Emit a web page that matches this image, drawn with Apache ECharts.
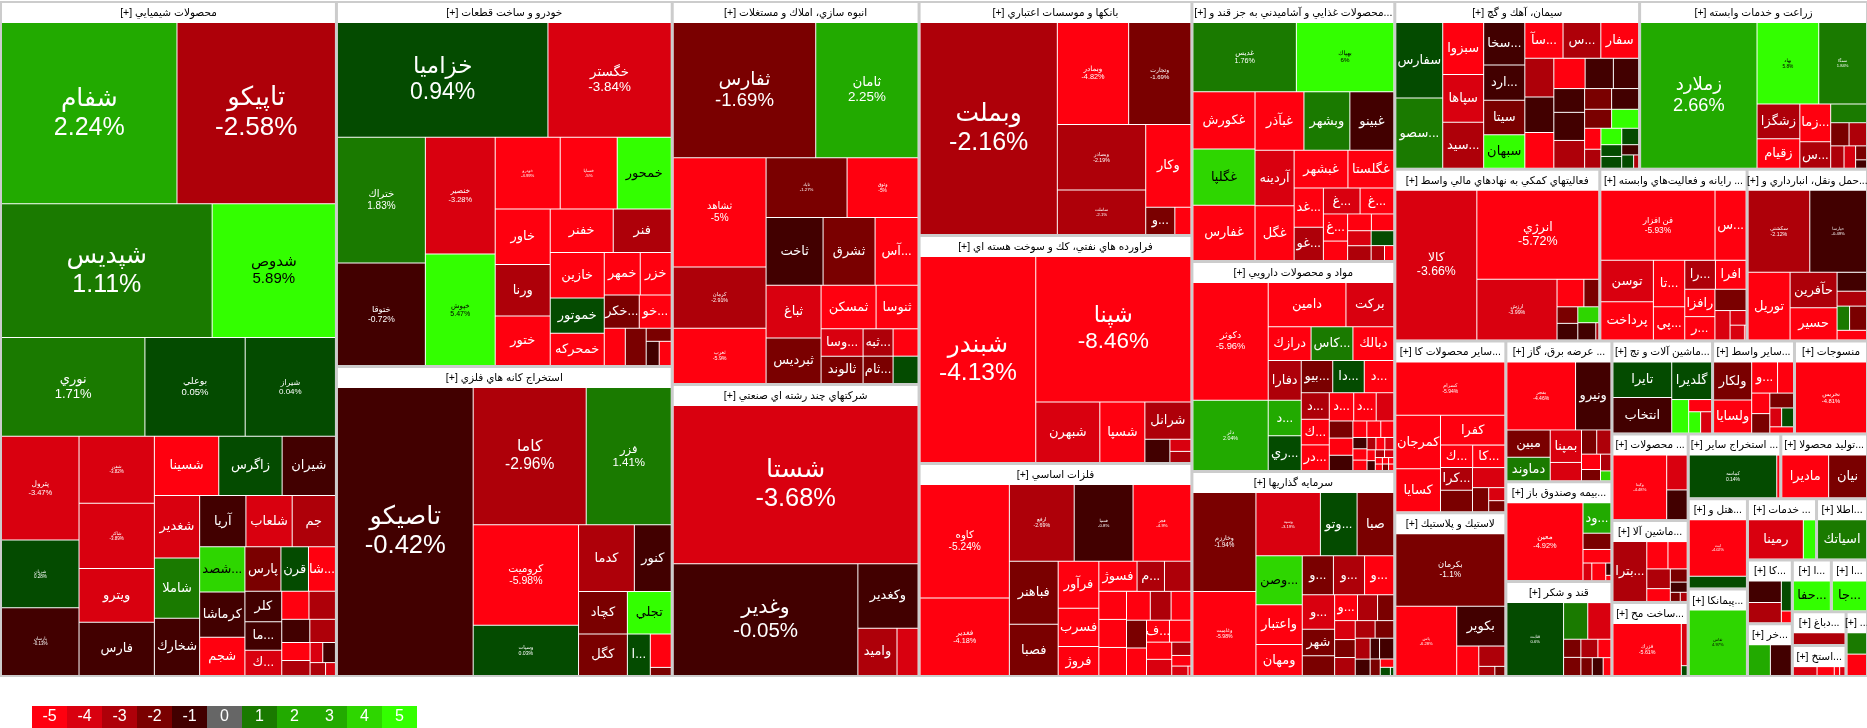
<!DOCTYPE html>
<html><head><meta charset="utf-8">
<style>html,body{margin:0;padding:0;background:#fff}#c{width:1867px;height:728px}</style>
<script src="https://cdn.jsdelivr.net/npm/echarts@6/dist/echarts.min.js"></script>
</head><body><div id="c"></div>
<script>
const sectorNames = ['محصولات شيميايي [+]','خودرو و ساخت قطعات [+]','استخراج كانه هاي فلزي [+]','انبوه سازي، املاك و مستغلات [+]','شركتهاي چند رشته اي صنعتي [+]','بانكها و موسسات اعتباري [+]','فراورده هاي نفتي، كك و سوخت هسته اي [+]','فلزات اساسي [+]','...محصولات غذايي و آشاميدني به جز قند و [+]','مواد و محصولات دارويي [+]','سرمايه گذاريها [+]','سيمان، آهك و گچ [+]','زراعت و خدمات وابسته [+]','فعاليتهاي كمكي به نهادهاي مالي واسط [+]','... رايانه و فعاليت‌هاي وابسته [+]','...حمل ونقل، انبارداري و [+]','...ساير محصولات كا [+]','لاستيك و پلاستيك [+]','... عرضه برق، گاز [+]','...بيمه وصندوق باز [+]','قند و شكر [+]','...ماشين آلات و تج [+]','...ساير واسط [+]','منسوجات [+]','... محصولات [+]','...ماشين آلا [+]','...ساخت مح [+]','... استخراج ساير [+]','...توليد محصولا [+]','...هتل و [+]','...پيمانكا [+]','... خدمات [+]','...اطلا [+]','...كا [+]','...خر [+]','...ا [+]','...ا [+]','...دباغ [+]','...استخ [+]','... [+]'];
const sectorValues = [226900,122640,104160,94601,72124,63882,62244,58149,52780,42630,41615,41082,38243,35226,25308,20691,19092,18204,14946,10600,10070,9384,7636,6808,6600,6250,5650,6000,5620,5350,5180,4230,3120,2860,2370,2020,1870,1820,1660,1390];

const tilesChemicals = [['شفام',31450,2.24],['تاپيكو',28400,-2.58],['شپديس',27850,1.11],['شدوص',16300,5.89],['نوري',14014,1.71],['بوعلي',9800,0.05],['شيراز',8820,0.04],['پترول',7956,-3.47],['شريان',5200,0.28],['پارسان',5190,-0.13],['شفن',4990,-3.82],['شاكر',4875,-3.89],['ويترو',3990,-3.2],['فارس',3975,-0.6],['شسينا',3780,-4.6],['زاگرس',3720,0.6],['شيران',3130,-0.7],['شغدير',2790,-3.4],['شاملا',2700,1.5],['شخارك',2565,-0.6],['آريا',2346,-0.7],['شلعاب',2346,-3.3],['جم',2193,-2.7],['...شصد',2025,4.5],['كرماشا',2025,-0.7],['شجم',1710,-4.6],['پارس',1581,-1.6],['قرن',1209,0.5],['...شا',1184,-4.5],['كلر',1110,-0.7],['...ما',1036,-0.8],['...ك',924,-3.4],['',756,-4.6],['',736,-2.6],['',644,-0.7],['',588,-2.6],['',504,-4.5],['',420,-2.6],['',252,-3.3],['',252,-0.6],['',198,-2.5],['',126,-3.4]];
const tilesAuto = [['خزاميا',23940,0.94],['خگستر',14022,-3.84],['ختراك',10938,1.83],['ختوقا',8925,-0.72],['خنصير',8062,-3.28],['خپوش',7715,5.47],['خودرو',4615,-4.99],['خساپا',4047,-5],['خمحور',3834,5.1],['خاور',3025,-4.5],['ورنا',2805,-2.5],['ختور',2695,-4.6],['خفنر',2709,-4.7],['فنر',2494,-2.6],['خازين',2430,-4.4],['خموتور',1890,0.4],['خمحركه',1728,-4.8],['خمهر',1512,-4.2],['خزر',1302,-4.3],['...خكر',1155,-1.5],['...خو',1056,-4.9],['',777,-4.6],['',770,-1.5],['',325,-1.6],['',312,-0.7],['',288,-4.5]];
const tilesMining = [['تاصيكو',38745,-0.42],['كاما',15368,-2.96],['فزر',11560,1.41],['كروميت',10500,-5.98],['وسپات',5250,0.03],['كدما',3696,-2.7],['كنور',2442,-0.6],['كچاد',2058,-1.8],['كگل',2009,-1.6],['تجلي',1848,5.2],['...ا',943,0.3],['',693,-4.6],['',168,-1.7]];
const tilesHousing = [['ثفارس',19028,-1.69],['ثامان',13668,2.25],['ثشاهد',10028,-5],['كرمان',5612,-2.91],['ثغرب',5060,-5.9],['ثاباد',4779,-1.27],['وثوق',4189,-5],['ثاخت',3819,-0.7],['ثشرق',3484,-1.6],['...آس',2881,-4.6],['ثباغ',2860,-3.4],['ثبرديس',2475,-1.7],['ثمسكن',2365,-4.4],['ثنوسا',1806,-4.5],['...وسا',1134,-3.3],['ثالوند',1134,-1.5],['...ثبه',810,-2.4],['...ثام',810,-1.5],['',675,-4.6],['',675,0.4]];
const tilesConglomerates = [['شستا',38308,-3.68],['وغدير',20424,-0.05],['وكغدير',3840,-0.6],['واميد',1833,-2.6],['',987,-3.3]];
const tilesBanks = [['وبملت',28696,-2.16],['وبمادر',7171,-4.82],['وتجارت',6262,-1.69],['وبصادر',5720,-2.19],['ساملت',3872,-2.1],['وكار',3690,-4.6],['...و',783,-1.7],['',432,-4.7]];
const tilesRefining = [['شبندر',23575,-4.13],['شپنا',22320,-8.46],['شبهرن',3840,-3.5],['شسپا',2700,-4.5],['شرانل',1702,-2.5],['',575,-0.6],['',252,-3.4],['',231,-2.6]];
const tilesMetals = [['كاوه',9944,-5.24],['فغدير',6776,-4.18],['ارفع',4875,-2.69],['فسپا',4425,-0.8],['فجر',4350,-4.9],['فباهنر',3024,-1.6],['فصبا',2448,-1.5],['فرآور',1880,-4.3],['فسرب',1520,-4.4],['فروژ',1160,-4.6],['فسوژ',1131,-4.5],['...م',812,-2.6],['',783,-2.4],['',760,-4.6],['',760,-4.7],['',760,-4.5],['',672,-4.6],['',588,-2.6],['',560,-4.5],['',546,-1.6],['',540,-4.6],['...ف',494,-4.5],['',462,-4.6],['',425,-4.7],['',400,-3.4],['',250,-2.5],['',200,-4.6],['',150,-3.3],['',27,-4.5]];
const tilesFood = [['غديس',7004,1.76],['بهپاك',6596,6],['غكورش',3477,-4.6],['غگلپا',3416,4.4],['غفارس',3355,-4.5],['غبآذر',2793,-4.7],['وبشهر',2622,1.4],['غبينو',2508,-0.7],['آردينه',2128,-3.4],['غگل',2090,-4.6],['غبشهر',1998,-4.5],['غگلستا',1702,-4.6],['...غد',1120,-4.7],['...غو',952,-2.6],['...غ',925,-3.2],['...غ',850,-4.4],['...غ',644,-4.5],['',460,-4.7],['',391,-4.6],['',368,-4.5],['',345,-3.4],['',340,-2.6],['',330,0.5],['',195,-2.5],['',135,-4.6]];
const tilesPharma = [['دكوثر',8658,-5.96],['دلر',5180,2.04],['دامين',3354,-4.6],['بركت',2064,-3.6],['درازك',1419,-4.5],['...كاس',1386,1.6],['دبالك',1353,-4.7],['دفارا',1280,-2.6],['...د',1152,2.4],['...ري',1120,0.5],['...بيو',992,-1.7],['...دا',992,0.6],['...د',930,-4.6],['...د',729,-2.7],['...ك',702,-4.5],['...در',702,-4.6],['...د',675,-4.4],['...د',621,-4.5],['',486,-3.4],['',396,-1.5],['',396,-4.6],['',352,-0.7],['',225,-4.5],['',225,-4.6],['',210,-4.4],['',156,-0.8],['',156,-4.5],['',143,-4.6],['',108,-2.6],['',108,-4.5],['',108,-3.4],['',88,-4.6],['',80,-0.7],['',70,-2.6],['',70,-3.3],['',45,-4.5],['',45,-4.6],['',39,-4.5],['',33,-4.7],['',39,-1.6],['',33,-4.6]];
const tilesInvestment = [['وخارزم',6076,-1.94],['وغاميت',5146,-5.98],['وسپه',3965,-3.19],['...وتو',2257,0.5],['صبا',2257,-1.5],['...وصن',2205,4.3],['واعتبار',1800,-4.5],['ومهان',1395,-4.6],['...و',1184,-1.6],['...و',1184,-2.5],['...و',1110,-4.6],['...و',1085,-3.3],['شهر',837,-1.5],['',620,-1.6],['...و',576,-4.5],['',504,-2.6],['',408,-1.5],['',380,-3.3],['',360,-1.5],['',360,-2.6],['',340,-2.5],['',320,-1.6],['',304,-2.6],['',238,-0.7],['',190,-0.6],['',288,-0.7],['',162,-1.6],['',110,-4.5],['',81,0.4],['',27,0.5]];
const tilesCement = [['سفارس',3478,0.6],['...سصو',3243,1.5],['سبزوا',2091,-4.7],['سپاها',1927,-3.3],['...سيد',1845,-2.6],['...سخا',1722,-0.7],['...ارد',1420,-0.6],['سيتا',1400,-1.6],['سبهان',1353,5.2],['...سآ',1345,-4.5],['...س',1330,-2.6],['سفار',1330,-4.4],['',1102,-2.7],['',1015,-0.6],['',1015,-4.5],['',930,-4.6],['',840,-0.7],['',750,-0.6],['',720,-0.5],['',850,-0.7],['',840,-2.6],['',550,-1.5],['',550,-0.6],['',504,-1.6],['',504,5.2],['',336,-4.6],['',304,-2.6],['',336,5.1],['',272,0.6],['',240,0.4],['',240,0.5],['',170,-0.6],['',156,0.5],['',65,-2.5]];
const tilesFarming = [['زملارد',16731,2.66],['بهاد',4960,5.8],['سمگا',3840,1.84],['زشگزا',1462,-2.6],['زقيام',1247,-4.6],['...زما',1147,-4.4],['...س',806,-2.6],['',660,1.5],['',420,-1.6],['',399,-2.5],['',294,-2.6],['',255,-3.4],['',150,-1.5],['',90,-0.7]];
const tilesFinancial = [['كالا',11988,-3.66],['انرژي',10736,-5.72],['ارزش',4800,-3.99],['',729,-4.5],['',405,-1.6],['',340,-1.6],['',340,-0.7],['',330,4.2],['',306,-0.6],['',51,-2.6]];
const tilesSoftware = [['فن افزار',7866,-5.93],['...س',2139,-4.5],['توسن',2132,-3.5],['پرداخت',1976,-4.6],['...تا',1426,-4.5],['...پي',1023,-4.6],['...را',870,-2.6],['افرا',870,-4.5],['رافزا',810,-4.6],['...ر',690,-4.5],['',651,-1.6],['',437,-3.4],['',230,-3.3],['',208,-3.2],['',24,-4.5]];
const tilesTransport = [['سكشتي',5022,-2.12],['حپارسا',4617,-0.49],['توريل',2814,-4.6],['حآفرين',1645,-2.5],['حسير',1504,-4.5],['',551,-0.7],['',435,-2.6],['',300,1.4],['',406,-1.6],['',280,-4.5]];
const tilesCeramics = [['كسرام',5750,-5.94],['كمرجان',2350,-4.6],['كسايا',1900,-4.5],['كفرا',1890,-4.5],['...ك',713,-4.6],['...كا',713,-4.7],['...كرا',713,-2.6],['',682,-1.6],['',640,-3.4],['',384,-1.6],['',208,-3.4],['',176,-1.6]];
const tilesRubber = [['بكرمان',7776,-1.1],['پاس',4140,-6.28],['بكوير',1880,-0.7],['',638,-4.6],['',520,-2.6],['',144,-2.5],['',90,-1.6]];
const tilesPower = [['بفجر',4556,-4.46],['ونيرو',2345,-0.7],['مبين',1161,-1.6],['دماوند',989,1.4],['بمپنا',992,-3.4],['',558,-3.3],['',360,-1.6],['',336,-2.6],['',285,-4.6],['',209,-1.5],['',170,-2.6],['',100,4.2]];
const tilesInsurance = [['معين',5850,-4.92],['...ود',840,2.4],['',448,-1.6],['',374,-4.6],['',153,-3.4],['',242,-4.6],['',63,-0.7],['',27,-4.5]];
const tilesSugar = [['قثابت',4032,0.6],['',864,1.5],['',828,-3.4],['',306,-1.6],['',306,-1.7],['',306,-2.6],['',234,-4.5],['',198,-1.7],['',190,-0.7],['',135,-4.6]];
const tilesMachinery = [['تايرا',2065,0.5],['انتخاب',2065,-0.7],['گلديرا',1480,0.6],['',561,5.2],['',276,-4.6],['',252,5.1],['',231,-3.4]];
const tilesIntermediaries = [['ولكار',1406,-1.6],['ولسايا',1216,-4.5],['...و',780,-4.6],['',480,-4.7],['',360,-4.5],['',342,-1.5],['',340,-1.6],['',216,-3.4],['',216,0.5],['',144,-4.5]];
const tilesTextiles = [['نخريس',4899,-4.81]];
const tilesProducts = [['وكبتا',3465,-4.48],['',714,-3.4],['',609,-0.7]];
const tilesMachinery2 = [['...بترا',2006,-2.6],['',572,-4.6],['',520,-4.5],['',460,-2.7],['',299,-4.5],['',221,-1.7],['',170,-0.7],['',90,-1.6],['',63,-2.6]];
const tilesManufacture = [['فزرك',3710,-5.61],['',258,-3.4],['',60,0.4]];
const tilesOtherMining = [['كماسه',3480,0.14],['',120,-4.5]];
const tilesProduction = [['ماديرا',1880,-4.6],['نيان',1520,-1.6]];
const tilesHotels = [['لبت',3249,-4.02],['',684,0.4]];
const tilesContractors = [['ثغاس',3762,4.97]];
const tilesServices = [['رمينا',2160,-3.5],['',480,5.2]];
const tilesInformation = [['اسياتك',1960,1.5]];
const tilesKa = [['',660,-0.7],['',627,-2.6],['',280,0.5],['',110,-4.5]];
const tilesKhor = [['',660,2.5],['',630,-0.7]];
const tilesAlef1 = [['...حفا',2000,5.1]];
const tilesAlef2 = [['...جا',1900,5.2]];
const tilesTanning = [['',1000,-2.6]];
const tilesEstekh = [['',176,-3.4],['',128,-4.5],['',40,-4.5],['',40,-3.5]];
const tilesLast = [['',418,1.5],['',418,-4.6]];

const sectorTiles = [tilesChemicals,tilesAuto,tilesMining,tilesHousing,tilesConglomerates,tilesBanks,tilesRefining,tilesMetals,tilesFood,tilesPharma,tilesInvestment,tilesCement,tilesFarming,tilesFinancial,tilesSoftware,tilesTransport,tilesCeramics,tilesRubber,tilesPower,tilesInsurance,tilesSugar,tilesMachinery,tilesIntermediaries,tilesTextiles,tilesProducts,tilesMachinery2,tilesManufacture,tilesOtherMining,tilesProduction,tilesHotels,tilesContractors,tilesServices,tilesInformation,tilesKa,tilesKhor,tilesAlef1,tilesAlef2,tilesTanning,tilesEstekh,tilesLast];
const legendLabels = [-5,-4,-3,-2,-1,0,1,2,3,4,5];

// styling
const percentFontSizes = {'شفام':25,'تاپيكو':26,'شپديس':25,'شدوص':15,'نوري':13,'بوعلي':9.5,'شيراز':8,'پترول':7.5,'شفن':4.5,'شاكر':4.5,'شريان':4.5,'پارسان':4.5,
'خزاميا':23,'خگستر':13.4,'ختراك':10,'خنصير':7.4,'ختوقا':8.5,'خپوش':7,'خودرو':4.2,'خساپا':4.4,
'تاصيكو':25.6,'كاما':15.6,'فزر':11.5,'كروميت':10.5,'وسپات':5.2,
'ثفارس':18.6,'ثامان':13.4,'ثشاهد':10,'ثاباد':4.3,'وثوق':4.8,'كرمان':5.3,'ثغرب':5.3,
'شستا':25.4,'وغدير':20.5,'وبملت':25,'وبمادر':7.3,'وتجارت':6,'وبصادر':5.2,'ساملت':4.4,
'شبندر':24.6,'شپنا':22.4,'كاوه':10.2,'فغدير':7.3,'ارفع':5.3,'فسپا':4.3,'فجر':4.3,
'غديس':7.2,'بهپاك':6.2,'دكوثر':9.4,'دلر':5.3,'وخارزم':6.3,'وغاميت':5.1,'وسپه':4.2,
'زملارد':18.2,'بهاد':4.8,'سمگا':4.1,'كالا':12.3,'انرژي':12.5,'ارزش':5.3,'فن افزار':8.4,
'سكشتي':5.3,'حپارسا':4.2,'كسرام':5,'بكرمان':8.3,'پاس':4.1,'بفجر':5,'معين':7.4,'قثابت':4.2,
'نخريس':5.8,'وكبتا':4.1,'كماسه':5,'لبت':3.9,'فزرك':5.3,'ثغاس':4.1};
const NAME_ONLY_SIZE = 13;
const FONT = '"Liberation Sans","DejaVu Sans",sans-serif';
const RLE = '\u202B', PDF = '\u202C';
function colorOf(c){
  if(c<=-4) return '#ff000f';
  if(c<=-3) return '#d9000f';
  if(c<=-2) return '#ae0009';
  if(c<=-1) return '#7a0000';
  if(c<0) return '#420000';
  if(c<1) return '#044b00';
  if(c<2) return '#1a7a00';
  if(c<4) return '#22aa00';
  if(c<5) return '#2ed600';
  return '#33ff00';
}
const legendColors = ['#ff000f','#d9000f','#ae0009','#7a0000','#420000','#666666','#1a7a00','#22aa00','#22aa00','#2ed600','#33ff00'];
function tile(row){
  const [name,value,change]=row;
  const pctSize = percentFontSizes[name];
  const size = pctSize || NAME_ONLY_SIZE;
  const text = !name ? '' : RLE+name+PDF+(pctSize ? '\n'+change+'%' : '');
  return {name,value,itemStyle:{color:colorOf(change)},
    label:{formatter:text,fontSize:size,lineHeight:Math.round(size*1.15),color:change>=4?'#000':'#fff'}};
}
const data = sectorNames.map((n,i)=>({name:n,value:sectorValues[i],children:sectorTiles[i].map(tile)}));
const chart = echarts.init(document.getElementById('c'),null,{renderer:'canvas',width:1867,height:728});
chart.setOption({
  animation:false,backgroundColor:'#fff',tooltip:{show:false},
  series:[{type:'treemap',left:2,top:3,width:1864,height:672,roam:false,nodeClick:false,silent:true,
    sort:false,visibleMin:0,childrenVisibleMin:0,squareRatio:1.02,
    breadcrumb:{show:false},
    label:{show:true,position:'inside',padding:0,overflow:'none',fontFamily:FONT},
    upperLabel:{show:true,height:20,color:'#000',fontSize:10.5,fontFamily:FONT,padding:0,overflow:'none',position:['50%','50%'],align:'center',
      formatter:p=>RLE+p.name+PDF},
    levels:[
      {itemStyle:{gapWidth:3,borderWidth:0,borderColor:'#cccccc'},upperLabel:{show:false}},
      {itemStyle:{gapWidth:1,borderWidth:0,borderColor:'#ffffff'},upperLabel:{show:true,height:20}},
      {itemStyle:{gapWidth:0,borderWidth:0},upperLabel:{show:false}}
    ],
    data}],
  graphic:[{type:'rect',silent:true,z:-1,shape:{x:0,y:1,width:1867,height:676},style:{fill:'#cccccc'}}].concat(legendLabels.flatMap((v,i)=>[
    {type:'rect',silent:true,shape:{x:32+35*i,y:706,width:35,height:22},style:{fill:legendColors[i]}},
    {type:'text',silent:true,x:32+35*i+17.5,y:717,style:{text:String(v),fill:'#fff',font:'16px '+FONT,align:'center',verticalAlign:'middle'}}
  ]))
});
</script></body></html>
